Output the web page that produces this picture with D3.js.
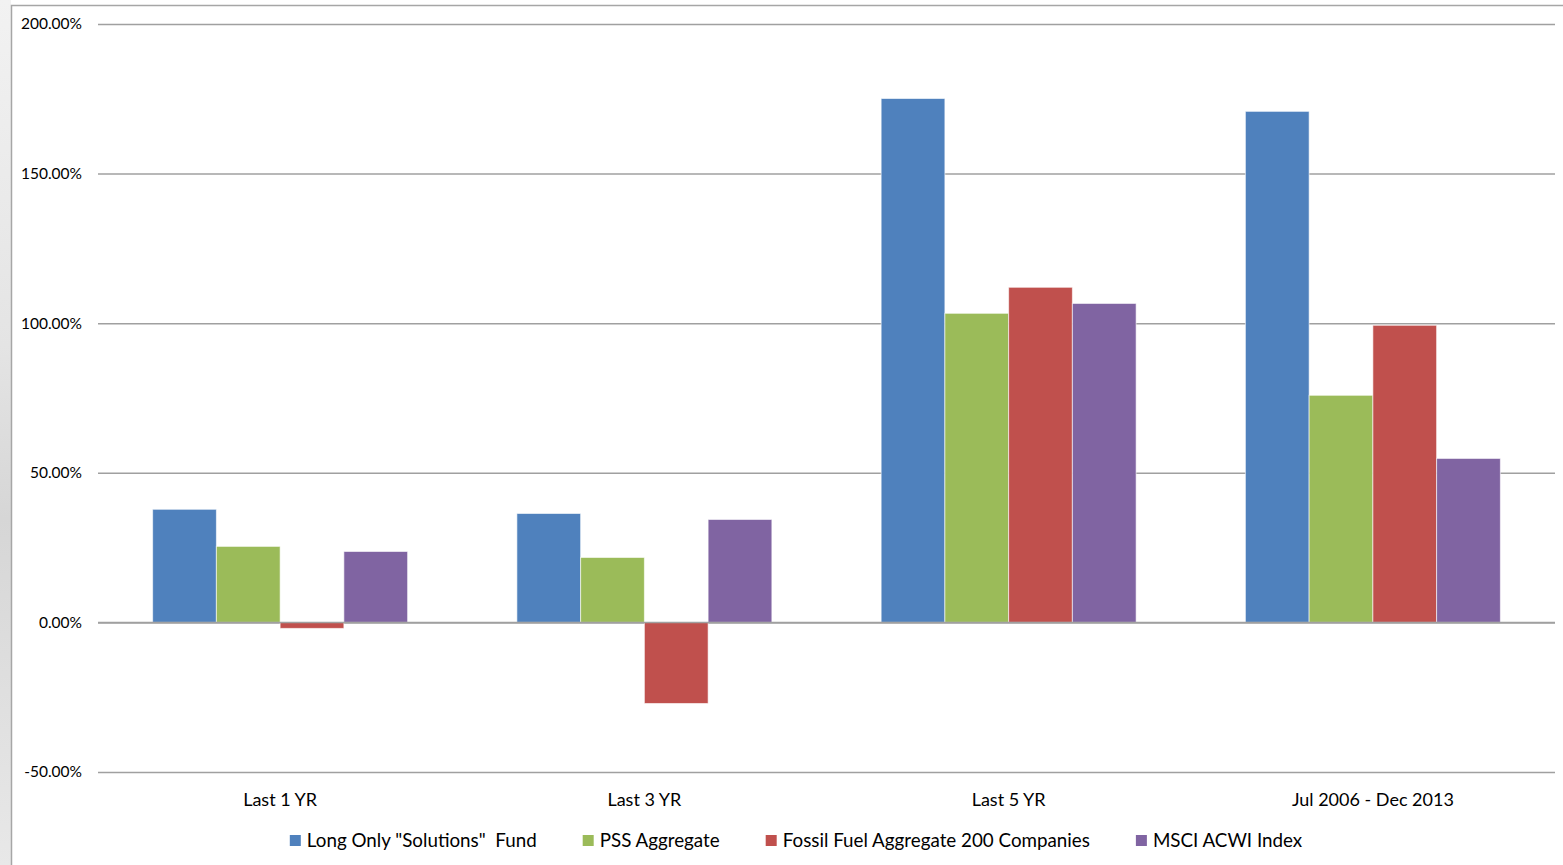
<!DOCTYPE html>
<html>
<head>
<meta charset="utf-8">
<script src="https://cdn.jsdelivr.net/npm/d3@7"></script>
<style>
  html, body { margin: 0; padding: 0; background: #fff; }
  svg { display: block; font-family: Lato, "Open Sans", sans-serif; }
</style>
</head>
<body>
<svg id="chart" width="1563" height="865"></svg>
<script>
const categories = ["Last 1 YR", "Last 3 YR", "Last 5 YR", "Jul 2006 - Dec 2013"];
const seriesNames = ["Long Only \"Solutions\"  Fund", "PSS Aggregate", "Fossil Fuel Aggregate 200 Companies", "MSCI ACWI Index"];
const longOnly = [37.8, 36.4, 175.1, 170.8];
const pss = [25.4, 21.7, 103.3, 75.9];
const fossil = [-2.0, -27.1, 112.0, 99.3];
const msci = [23.7, 34.4, 106.6, 54.8];
const colors = ["#4f81bd", "#9bbb59", "#c0504d", "#8064a2"];
const yTicks = [-50, 0, 50, 100, 150, 200];

const seriesValues = [longOnly, pss, fossil, msci];
const svg = d3.select("#chart");

// left textured strip (background photo edge)
const grad = svg.append("defs").append("linearGradient").attr("id", "strip").attr("x1", 0).attr("y1", 0).attr("x2", 0).attr("y2", 1);
grad.append("stop").attr("offset", "0%").attr("stop-color", "#f2f2f2");
grad.append("stop").attr("offset", "40%").attr("stop-color", "#e4e4e4");
grad.append("stop").attr("offset", "60%").attr("stop-color", "#d6d6d6");
grad.append("stop").attr("offset", "100%").attr("stop-color", "#e8e8e8");
svg.append("rect").attr("x", 0).attr("y", 0).attr("width", 11).attr("height", 865).attr("fill", "url(#strip)");

// chart border
svg.append("rect").attr("x", 11.5).attr("y", 5.5).attr("width", 1600).attr("height", 900)
  .attr("fill", "#fff").attr("stroke", "#a6a6a6").attr("stroke-width", 1.5);

const margin = { left: 98, right: 1555, top: 24, bottom: 772 };
const y = d3.scaleLinear().domain([-50, 200]).range([margin.bottom, margin.top]);
const x0 = d3.scaleBand().domain(categories).range([margin.left, margin.right]).paddingInner(0.3).paddingOuter(0.15);
const x1 = d3.scaleBand().domain(d3.range(seriesNames.length)).range([0, x0.bandwidth()]);

// gridlines
const yAxis = d3.axisLeft(y).tickValues(yTicks).tickSize(-(margin.right - margin.left)).tickFormat(d => d.toFixed(2) + "%");
const gAxis = svg.append("g").attr("transform", `translate(${margin.left},0)`).call(yAxis);
gAxis.select(".domain").remove();
gAxis.selectAll(".tick line").attr("stroke", "#a0a0a0").attr("stroke-width", 1.5);
gAxis.selectAll(".tick text").attr("x", -16).attr("font-size", 15.5).attr("fill", "#000")
  .attr("font-family", "Lato, 'Open Sans', sans-serif");

// bars
const groups = svg.append("g").selectAll("g").data(categories).join("g")
  .attr("transform", d => `translate(${x0(d)},0)`);
groups.selectAll("rect").data((c, ci) => seriesValues.map((s, si) => ({ si, v: s[ci] }))).join("rect")
  .attr("x", d => x1(d.si))
  .attr("width", x1.bandwidth())
  .attr("y", d => y(Math.max(0, d.v)))
  .attr("height", d => Math.abs(y(d.v) - y(0)))
  .attr("fill", d => colors[d.si])
  .attr("stroke", "rgba(255,255,255,0.6)")
  .attr("stroke-width", 1);

// zero line on top
svg.append("line").attr("x1", margin.left).attr("x2", margin.right).attr("y1", y(0)).attr("y2", y(0))
  .attr("stroke", "#a0a0a0").attr("stroke-width", 1.5);

// category labels
const xAxis = d3.axisBottom(x0).tickSize(0).tickPadding(0);
const gx = svg.append("g").attr("transform", `translate(0,${margin.bottom + 28})`).call(xAxis);
gx.select(".domain").remove();
gx.selectAll(".tick text").attr("font-size", 18).attr("fill", "#000").attr("dy", "0.35em")
  .attr("font-family", "Lato, 'Open Sans', sans-serif");

// legend
const legend = svg.append("g");
const items = legend.selectAll("g").data(seriesNames).join("g");
items.append("rect").attr("width", 11).attr("height", 11).attr("y", -5).attr("fill", (d, i) => colors[i]);
items.append("text").attr("x", 17).attr("dy", "0.35em").attr("font-size", 18.8).attr("fill", "#000")
  .style("white-space", "pre").attr("xml:space", "preserve").text(d => d);
let xpos = 0;
const gap = 46;
items.each(function () {
  const w = 17 + this.querySelector("text").getComputedTextLength();
  d3.select(this).attr("transform", `translate(${xpos},0)`);
  xpos += w + gap;
});
const totalW = xpos - gap;
legend.attr("transform", `translate(${796 - totalW / 2},${840})`);
</script>
</body>
</html>
